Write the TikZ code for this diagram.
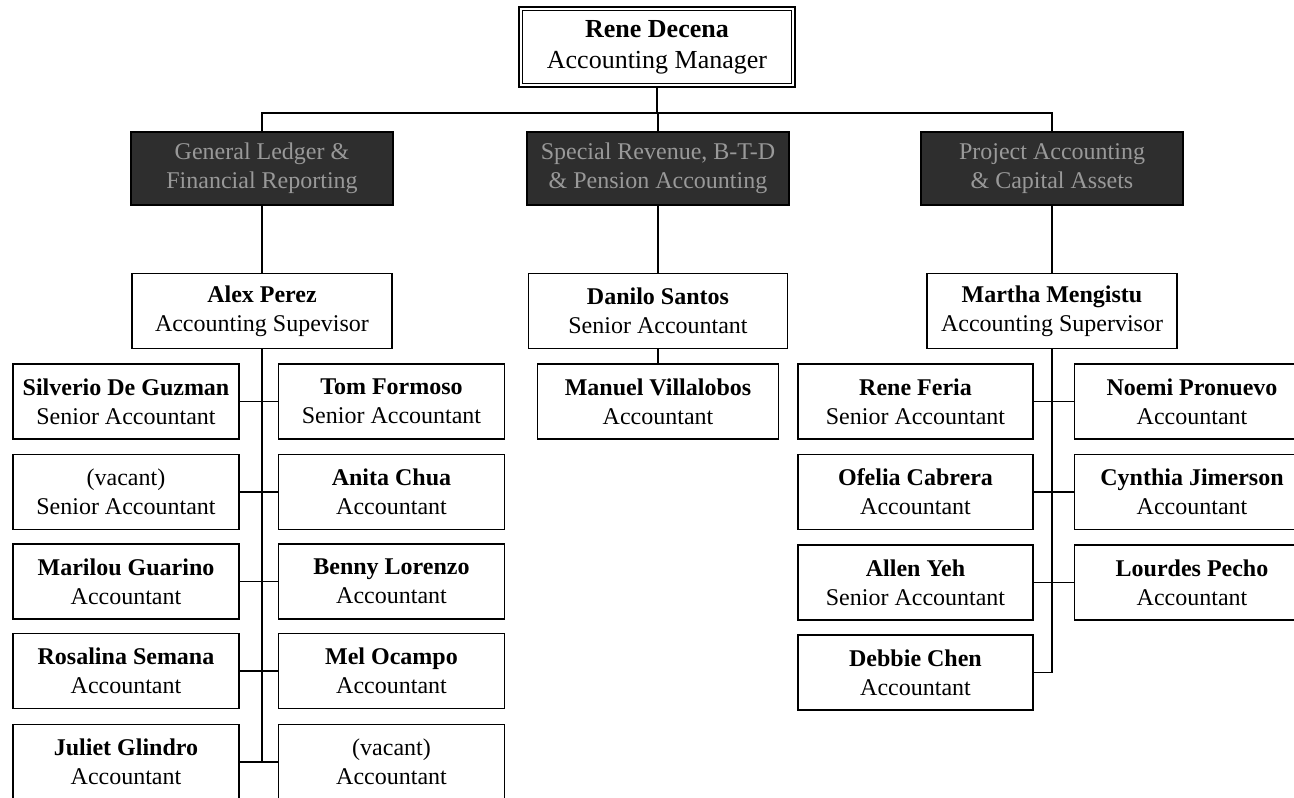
\documentclass[tikz,border=0pt]{standalone}
\usepackage{fontspec}
\setmainfont{Liberation Serif}
\begin{document}
\begin{tikzpicture}[x=1pt,y=-1pt,
  box/.style={draw, line width=1.6pt, fill=white, align=center, inner sep=0pt,
    font=\fontsize{24}{29}\selectfont, minimum height=75pt},
  dark/.style={draw, line width=1.6pt, fill=black!82, text=black!40, align=center,
    inner sep=0pt, minimum width=262pt, minimum height=73pt,
    font=\fontsize{24}{29}\selectfont},
  wire/.style={line width=1.6pt}]
\clip (0,0) rectangle (1294,798);
\useasboundingbox (0,0) rectangle (1294,798);
\fill[white] (0,0) rectangle (1294,798);

% top
\node[box, minimum width=276pt, minimum height=80pt, line width=2.6pt,
  font=\fontsize{26}{31}\selectfont] (top) at (657,47) {\textbf{Rene Decena}\\Accounting Manager};
\draw[line width=0.9pt] ([shift={(5pt,-5pt)}]top.north west) rectangle ([shift={(-5pt,5pt)}]top.south east);

% departments
\node[dark] (gl) at (262,168.5) {General Ledger \&\\Financial Reporting};
\node[dark] (sr) at (658,168.5) {Special Revenue, B-T-D\\\& Pension Accounting};
\node[dark] (pa) at (1052,168.5) {Project Accounting\\\& Capital Assets};
\coordinate (bus) at (657,113);
\draw[wire] (top.south) -- (bus);
\draw[wire] (gl.north) -- (gl.north |- bus) -- (pa.north |- bus) -- (pa.north);
\draw[wire] (sr.north) -- (sr.north |- bus);

% supervisors
\node[box, minimum width=260pt] (alex) at (262,311) {\textbf{Alex Perez}\\Accounting Supevisor};
\node[box, minimum width=259pt] (danilo) at (658,311) {\textbf{Danilo Santos}\\Senior Accountant};
\node[box, minimum width=250pt] (martha) at (1052,311) {\textbf{Martha Mengistu}\\Accounting Supervisor};
\draw[wire] (gl.south) -- (alex.north);
\draw[wire] (sr.south) -- (danilo.north);
\draw[wire] (pa.south) -- (martha.north);

% middle
\node[box, minimum width=241pt] (manuel) at (658,401.5) {\textbf{Manuel Villalobos}\\Accountant};
\draw[wire] (danilo.south) -- (manuel.north);

% left group
\begin{scope}[every node/.append style={box, minimum width=226pt}]
\node (l1) at (126,401.5) {\textbf{Silverio De Guzman}\\Senior Accountant};
\node (l2) at (126,492) {(vacant)\\Senior Accountant};
\node (l3) at (126,581.5) {\textbf{Marilou Guarino}\\Accountant};
\node (l4) at (126,671) {\textbf{Rosalina Semana}\\Accountant};
\node (l5) at (126,762) {\textbf{Juliet Glindro}\\Accountant};
\node (r1) at (391.5,401.5) {\textbf{Tom Formoso}\\Senior Accountant};
\node (r2) at (391.5,492) {\textbf{Anita Chua}\\Accountant};
\node (r3) at (391.5,581.5) {\textbf{Benny Lorenzo}\\Accountant};
\node (r4) at (391.5,671) {\textbf{Mel Ocampo}\\Accountant};
\node (r5) at (391.5,762) {(vacant)\\Accountant};
\end{scope}
\coordinate (lspine) at (262,762);
\draw[wire] (alex.south) -- (lspine);
\foreach \i in {1,...,5} \draw[wire] (l\i.east) -- (r\i.west);

% right group
\begin{scope}[every node/.append style={box, minimum width=235pt}]
\node (p1) at (915.5,401.5) {\textbf{Rene Feria}\\Senior Accountant};
\node (p2) at (915.5,492) {\textbf{Ofelia Cabrera}\\Accountant};
\node (p3) at (915.5,582.5) {\textbf{Allen Yeh}\\Senior Accountant};
\node (p4) at (915.5,672.5) {\textbf{Debbie Chen}\\Accountant};
\node (q1) at (1192,401.5) {\textbf{Noemi Pronuevo}\\Accountant};
\node (q2) at (1192,492) {\textbf{Cynthia Jimerson}\\Accountant};
\node (q3) at (1192,582.5) {\textbf{Lourdes Pecho}\\Accountant};
\end{scope}
\coordinate (rspine) at (1052,672.5);
\draw[wire] (martha.south) -- (rspine);
\foreach \i in {1,2,3} \draw[wire] (p\i.east) -- (q\i.west);
\draw[wire] (p4.east) -- (rspine);
\end{tikzpicture}
\end{document}
